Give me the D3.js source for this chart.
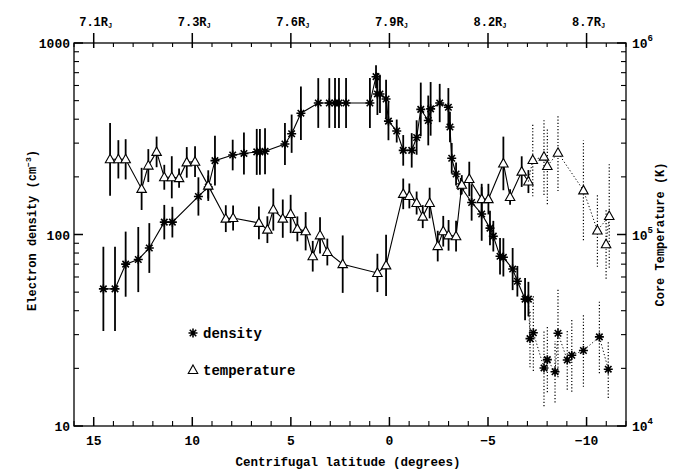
<!DOCTYPE html>
<html><head><meta charset="utf-8">
<script src="https://cdn.jsdelivr.net/npm/d3@7/dist/d3.min.js"></script>
<style>body{margin:0;background:#fff}svg{display:block}</style>
</head><body>
<svg id="c" width="674" height="470"></svg>
<script>
// ---- data ----
const densLat = [14.51,13.92,13.38,12.74,12.18,11.42,11.01,9.69,9.19,8.85,7.95,7.38,6.73,6.57,6.31,5.30,4.96,4.49,3.61,3.05,2.76,2.56,2.20,0.99,0.68,0.61,0.48,0.17,0.05,-0.37,-0.70,-1.13,-1.38,-1.59,-1.97,-2.09,-2.55,-2.99,-3.07,-3.16,-3.38,-3.62,-4.17,-4.68,-5.10,-5.27,-5.61,-5.78,-6.25,-6.49,-6.88,-7.05];
const densVal = [52,52,70,74,85,116,116,158,177,243,260,265,270,270,272,297,336,430,486,486,486,486,486,486,667,542,542,510,391,347,275,275,321,450,394,453,486,462,364,250,207,178,147,128,108,98,77,76,66,57,46,46];
const densErr = [0.22,0.22,0.17,0.17,0.13,0.09,0.08,0.1,0.06,0.13,0.08,0.11,0.12,0.12,0.12,0.11,0.1,0.14,0.13,0.13,0.13,0.13,0.13,0.13,0.06,0.11,0.1,0.1,0.1,0.06,0.08,0.09,0.09,0.14,0.13,0.14,0.1,0.1,0.08,0.08,0.06,0.045,0.095,0.14,0.09,0.08,0.095,0.1,0.11,0.08,0.11,0.09];

const densLatDot = [-7.13,-7.30,-7.84,-8.01,-8.40,-8.55,-9.02,-9.25,-9.84,-10.65,-11.10];
const densValDot = [28.6,30.7,20.1,22.2,19.2,30.5,22.1,23.4,24.8,29.2,19.8];
const densErrDot = [0.15,0.2,0.2,0.17,0.16,0.23,0.155,0.19,0.19,0.19,0.15];

const tempLat = [14.17,13.75,13.38,12.57,12.23,11.81,11.42,11.04,10.67,10.28,9.86,9.19,8.30,7.93,6.62,6.19,5.89,5.41,5.01,4.67,4.25,3.89,3.52,3.15,2.37,0.61,0.17,-0.70,-1.01,-1.38,-1.69,-2.04,-2.45,-2.73,-3.00,-3.38,-3.67,-4.05,-4.68,-5.02,-5.78,-6.12,-6.71,-7.05];
const tempVal = [2.47e5,2.47e5,2.47e5,1.73e5,2.29e5,2.70e5,1.99e5,1.99e5,1.97e5,2.38e5,2.40e5,1.80e5,1.21e5,1.22e5,1.15e5,1.06e5,1.35e5,1.21e5,1.28e5,1.07e5,1.04e5,7.7e4,9.9e4,8.1e4,7.0e4,6.3e4,6.9e4,1.63e5,1.59e5,1.46e5,1.24e5,1.46e5,8.7e4,1.04e5,9.9e4,9.8e4,1.82e5,1.95e5,1.53e5,1.53e5,2.35e5,1.57e5,2.13e5,1.89e5];
const tempErr = [0.19,0.10,0.105,0.11,0.086,0.08,0.065,0.11,0.05,0.08,0.08,0.08,0.07,0.065,0.086,0.07,0.11,0.1,0.1,0.065,0.1,0.08,0.095,0.07,0.15,0.1,0.16,0.08,0.065,0.06,0.06,0.08,0.08,0.08,0.08,0.08,0.05,0.09,0.08,0.08,0.14,0.04,0.08,0.06];

const tempLatDot = [-7.27,-7.84,-8.01,-8.55,-9.84,-10.55,-11.15,-10.99];
const tempValDot = [2.45e5,2.55e5,2.28e5,2.67e5,1.70e5,1.05e5,1.25e5,8.9e4];
const tempErrDot = [0.19,0.2,0.2,0.2,0.26,0.19,0.27,0.18];

const latTicks = [15,10,5,0,-5,-10];
const latLabels = ["15","10","5","0","\u22125","\u221210"];
const topTickLat = [15,10,5,0,-5,-10];
const topLabels = ["7.1R","7.3R","7.6R","7.9R","8.2R","8.7R"];
const densTicks = [10,100,1000];
const densTickLabels = ["10","100","1000"];
const tempTicks = [1e4,1e5,1e6];
const tempTickExp = ["4","5","6"];
const legendLabels = ["density","temperature"];

// ---- drawing ----
const svg = d3.select("#c");
const FONT = "'Liberation Mono', 'DejaVu Sans Mono', monospace";
const L=74, R=626, T=43, B=426;
const x = d3.scaleLinear().domain([16,-12]).range([L,R]);
const y = d3.scaleLog().domain([10,1000]).range([B,T]);
const yT = d3.scaleLog().domain([1e4,1e6]).range([B,T]);

const g = svg.append("g");
const txt = (sel)=>sel.attr("font-family",FONT).attr("font-weight","bold").attr("fill","#000");

g.append("rect").attr("x",L).attr("y",T).attr("width",R-L).attr("height",B-T)
  .attr("fill","none").attr("stroke","#000").attr("stroke-width",1.3);

const minorLat = d3.range(16,-12.5,-1);
minorLat.forEach(v=>{
  const major = latTicks.includes(v);
  g.append("line").attr("x1",x(v)).attr("x2",x(v)).attr("y1",B).attr("y2",B-(major?9:5))
   .attr("stroke","#000").attr("stroke-width",major?1.5:1.1);
  g.append("line").attr("x1",x(v)).attr("x2",x(v)).attr("y1",major?T-10:T).attr("y2",T+(major?5:4))
   .attr("stroke","#000").attr("stroke-width",major?1.5:1.1);
});
latTicks.forEach((v,i)=>{
  g.append("text").call(txt).attr("x",x(v)).attr("y",B+19).attr("text-anchor","middle")
   .attr("font-size",13).text(latLabels[i]);
});
topTickLat.forEach((v,i)=>{
  const t = g.append("text").call(txt).attr("x",x(v)+2).attr("y",26).attr("text-anchor","middle")
   .attr("font-size",12);
  t.append("tspan").text(topLabels[i]);
  t.append("tspan").attr("font-size",7).attr("dy",2).text("J");
});

const dMinor = [];
[10,100].forEach(d=>{for(let k=1;k<=9;k++) dMinor.push(d*k);});
dMinor.push(1000);
dMinor.forEach(v=>{
  const major = densTicks.includes(v);
  g.append("line").attr("x1",L).attr("x2",L+(major?9:5)).attr("y1",y(v)).attr("y2",y(v))
   .attr("stroke","#000").attr("stroke-width",major?1.5:1.1);
});
densTicks.forEach((v,i)=>{
  g.append("text").call(txt).attr("x",L-4).attr("y",y(v)+5).attr("text-anchor","end")
   .attr("font-size",13).text(densTickLabels[i]);
});
const tMinor = [];
[1e4,1e5].forEach(d=>{for(let k=1;k<=9;k++) tMinor.push(d*k);});
tMinor.push(1e6);
tMinor.forEach(v=>{
  const major = tempTicks.includes(v);
  g.append("line").attr("x1",R).attr("x2",R-(major?9:5)).attr("y1",yT(v)).attr("y2",yT(v))
   .attr("stroke","#000").attr("stroke-width",major?1.5:1.1);
});
tempTicks.forEach((v,i)=>{
  const t = g.append("text").call(txt).attr("x",R+6).attr("y",yT(v)+5).attr("font-size",13);
  t.append("tspan").text("10");
  t.append("tspan").attr("font-size",9).attr("dy",-7).text(tempTickExp[i]);
});

g.append("text").call(txt).attr("x",(L+R)/2-2).attr("y",466).attr("text-anchor","middle")
  .attr("font-size",12.5).text("Centrifugal latitude (degrees)");
{
  const t = g.append("text").call(txt).attr("transform",`translate(36,${(T+B)/2-4}) rotate(-90)`)
    .attr("text-anchor","middle").attr("font-size",12);
  t.append("tspan").text("Electron density (cm");
  t.append("tspan").attr("font-size",8).attr("dy",-5).text("\u22123");
  t.append("tspan").attr("dy",5).text(")");
}
g.append("text").call(txt).attr("transform",`translate(664,${(T+B)/2}) rotate(-90)`)
  .attr("text-anchor","middle").attr("font-size",12).text("Core Temperature (K)");

const star = (r)=>{const a=r*0.72;return `M${-r},0L${r},0M0,${-r}L0,${r}M${-a},${-a}L${a},${a}M${-a},${a}L${a},${-a}`;};
const tri = (r)=>`M0,${-r}L${r*0.95},${r*0.7}L${-r*0.95},${r*0.7}Z`;

function series(lat, val, err, ys, dotted, marker, prevPt){
  const pts = lat.map((l,i)=>({x:x(l), y:ys(val[i]), lo:ys(val[i]/Math.pow(10,err[i])), hi:ys(val[i]*Math.pow(10,err[i]))}));
  const linePts = prevPt ? [prevPt].concat(pts) : pts;
  g.append("g").selectAll("line").data(pts).join("line")
   .attr("x1",d=>d.x).attr("x2",d=>d.x).attr("y1",d=>d.lo).attr("y2",d=>d.hi)
   .attr("stroke","#000").attr("stroke-width",dotted?1.2:1.8)
   .attr("stroke-dasharray",dotted?"1.2,2":null);
  g.append("path").attr("d",d3.line().x(d=>d.x).y(d=>d.y)(linePts))
   .attr("fill","none").attr("stroke","#000").attr("stroke-width",dotted?1:1.1)
   .attr("stroke-dasharray",dotted?"1.2,2.2":null);
  g.append("g").selectAll("path").data(pts).join("path")
   .attr("transform",d=>`translate(${d.x},${d.y})`)
   .attr("d",marker==="star"?star(4.5):tri(5))
   .attr("fill",marker==="star"?"none":"#fff").attr("stroke","#000")
   .attr("stroke-width",marker==="star"?1.6:1.1);
  return pts[pts.length-1];
}
const lastD = series(densLat,densVal,densErr,y,false,"star");
series(densLatDot,densValDot,densErrDot,y,true,"star",lastD);
const lastT = series(tempLat,tempVal,tempErr,yT,false,"tri");
series(tempLatDot,tempValDot,tempErrDot,yT,true,"tri",lastT);

g.append("path").attr("transform","translate(193,333)").attr("d",star(4.5))
  .attr("fill","none").attr("stroke","#000").attr("stroke-width",1.6);
g.append("text").call(txt).attr("x",203).attr("y",338).attr("font-size",14).text(legendLabels[0]);
g.append("path").attr("transform","translate(193,370)").attr("d",tri(5))
  .attr("fill","#fff").attr("stroke","#000").attr("stroke-width",1.1);
g.append("text").call(txt).attr("x",203).attr("y",375).attr("font-size",14).text(legendLabels[1]);
</script>
</body></html>
